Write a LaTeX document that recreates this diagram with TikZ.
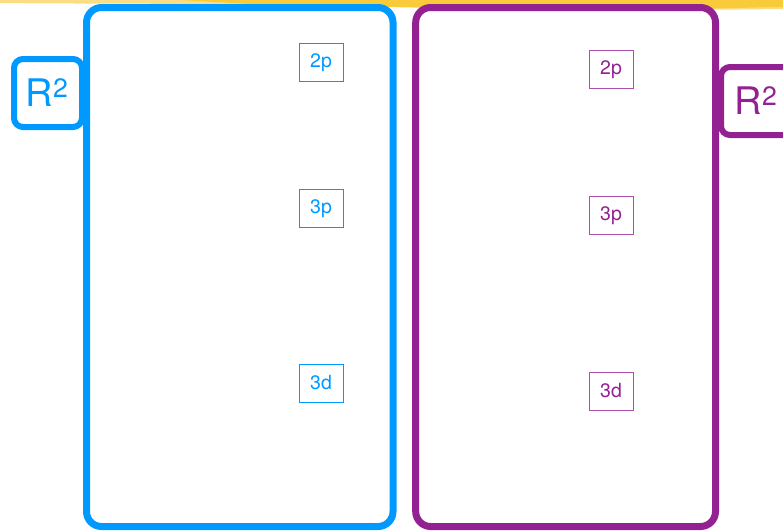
\documentclass[tikz,border=0pt]{standalone}
\usepackage{fontspec}
\setmainfont{TeX Gyre Heros}
\definecolor{bl}{RGB}{0,153,255}
\definecolor{pu}{RGB}{148,33,146}
\definecolor{pul}{RGB}{170,80,170}
\definecolor{ye}{RGB}{249,200,50}
\begin{document}
\begin{tikzpicture}[x=1pt,y=-1pt,
  bigbox/.style={line width=7pt,rounded corners=15pt},
  rbox/.style={line width=6pt,rounded corners=9pt},
  orb/.style={draw,line width=0.8pt,minimum width=44pt,minimum height=38pt,inner sep=0pt,font=\fontsize{19.5}{19.5}\selectfont},
  rlab/.style={font=\fontsize{38}{38}\selectfont,inner sep=0pt}]
\useasboundingbox (0,0) rectangle (783,530);
\clip (0,0) rectangle (783,530);
% yellow strip
\fill[ye,opacity=0.6] (0,0) -- (0,3) .. controls (80,4) and (160,3) .. (240,5)
  .. controls (320,6) and (400,7) .. (480,9) .. controls (600,11) and (700,10) .. (783,9) -- (783,0) -- cycle;
\fill[ye,opacity=0.9] (180,0) -- (250,4) .. controls (350,6) and (450,8) .. (560,10)
  .. controls (650,11) and (720,8) .. (783,7) -- (783,0) -- cycle;
% big boxes
\draw[bl,bigbox] (86.5,7.5) rectangle (393,526.5);
\draw[pu,bigbox] (415.7,7.5) rectangle (715.5,526.5);
% R2 boxes
\draw[bl,rbox,fill=white] (14,59) rectangle (82,127);
\node[rlab,text=bl] (rl) at (47,93) {R\textsuperscript{2}};
\draw[pu,rbox,fill=white] (721,67) rectangle (800,135);
\node[rlab,text=pu] (rr) at (756,101) {R\textsuperscript{2}};
% orbital boxes
\node[orb,draw=bl,text=bl] (b2p) at (321,62.5) {2p};
\node[orb,draw=bl,text=bl] (b3p) at (321,208.5) {3p};
\node[orb,draw=bl,text=bl] (b3d) at (321,383) {3d};
\node[orb,draw=pul,text=pu] (p2p) at (611,69.5) {2p};
\node[orb,draw=pul,text=pu] (p3p) at (611,215.5) {3p};
\node[orb,draw=pul,text=pu] (p3d) at (611,391) {3d};
\end{tikzpicture}
\end{document}
